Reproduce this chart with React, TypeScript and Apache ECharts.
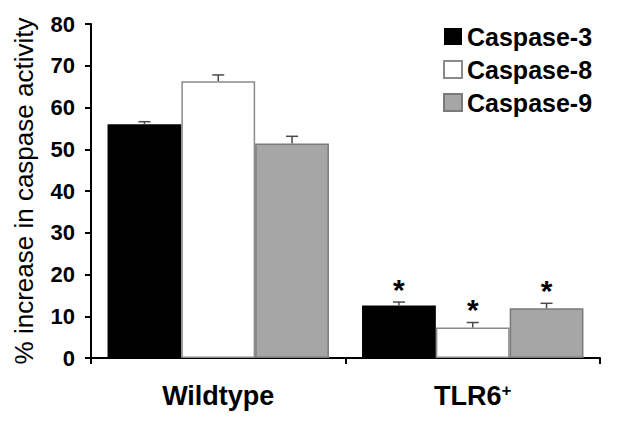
import React, { useEffect, useRef } from "react";
import * as echarts from "echarts";

const categories = ["Wildtype", "TLR6+"];
const seriesNames = ["Caspase-3", "Caspase-8", "Caspase-9"];
const caspase3 = [56.0, 12.6];
const caspase8 = [66.3, 7.3];
const caspase9 = [51.4, 11.9];
const err3 = [0.6, 0.8];
const err8 = [1.5, 1.2];
const err9 = [1.7, 1.2];
const sig3 = [0, 1];
const sig8 = [0, 1];
const sig9 = [0, 1];
const yTicks = [0, 10, 20, 30, 40, 50, 60, 70, 80];

const FONT = "'Liberation Sans', Arial, Helvetica, sans-serif";
const BAR_FRAC = 0.29;

export default function App() {
  const ref = useRef<HTMLDivElement>(null);
  useEffect(() => {
    if (!ref.current) return;
    const chart = echarts.init(ref.current, undefined, { renderer: "svg" });
    const values = [caspase3, caspase8, caspase9];
    const errs = [err3, err8, err9];
    const sigs = [sig3, sig8, sig9];
    const styles = [
      { color: "#000000", borderColor: "#000000", borderWidth: 0 },
      { color: "#ffffff", borderColor: "#8a8a8a", borderWidth: 1.5 },
      { color: "#a6a6a6", borderColor: "#7a7a7a", borderWidth: 1.5 },
    ];
    const bars = seriesNames.map((name, k) => ({
      name,
      type: "bar",
      data: values[k],
      barWidth: BAR_FRAC * 100 + "%",
      barGap: "0%",
      itemStyle: styles[k],
      z: 2,
    }));
    const errSeries = seriesNames.map((name, k) => ({
      name: "err-" + name,
      type: "custom",
      z: 5,
      data: categories.map((_, i) => [i, values[k][i], errs[k][i], sigs[k][i]]),
      encode: { x: 0, y: 1 },
      renderItem: (params: any, api: any) => {
        const idx = api.value(0);
        const v = api.value(1);
        const e = api.value(2);
        const s = api.value(3);
        const bandW = api.size([1, 0])[0];
        const w = bandW * BAR_FRAC;
        const cx = api.coord([idx, 0])[0] + (k - 1) * w;
        const yb = api.coord([idx, v])[1];
        const yt = api.coord([idx, v + e])[1];
        const st = { stroke: "#4a4a4a", lineWidth: 1.5 };
        const children: any[] = [
          { type: "line", shape: { x1: cx, y1: yb, x2: cx, y2: yt }, style: st },
          { type: "line", shape: { x1: cx - 6, y1: yt, x2: cx + 6, y2: yt }, style: st },
        ];
        if (s) {
          children.push({
            type: "text",
            x: cx,
            y: yt - 13,
            style: {
              text: "*",
              fontSize: 30,
              fontWeight: "bold",
              fontFamily: FONT,
              fill: "#000",
              align: "center",
              verticalAlign: "middle",
            },
          });
        }
        return { type: "group", children };
      },
    }));
    chart.setOption({
      animation: false,
      backgroundColor: "#ffffff",
      grid: { left: 91, right: 26, top: 24, bottom: 67, containLabel: false },
      legend: {
        data: seriesNames,
        orient: "vertical",
        left: 438,
        top: 19,
        icon: "rect",
        itemWidth: 18,
        itemHeight: 17,
        itemGap: 8,
        textStyle: { fontSize: 25, fontWeight: "bold", fontFamily: FONT, color: "#000" },
      },
      xAxis: {
        type: "category",
        data: categories,
        axisLine: { lineStyle: { color: "#000", width: 2 } },
        axisTick: { show: true, length: 6, lineStyle: { color: "#000", width: 2 } },
        axisLabel: {
          margin: 24,
          color: "#000",
          fontFamily: FONT,
          formatter: (val: string) => {
            if (val.endsWith("+")) return "{a|" + val.slice(0, -1) + "}{b|+}";
            return "{a|" + val + "}";
          },
          rich: {
            a: { fontSize: 27, fontWeight: "bold", fontFamily: FONT, color: "#000" },
            b: { fontSize: 17, fontWeight: "bold", fontFamily: FONT, color: "#000", verticalAlign: "top" },
          },
        },
      },
      yAxis: {
        type: "value",
        min: yTicks[0],
        max: yTicks[yTicks.length - 1],
        interval: 10,
        name: "% increase in caspase activity",
        nameLocation: "middle",
        nameRotate: 90,
        nameGap: 54,
        nameTextStyle: { fontSize: 26, fontFamily: FONT, color: "#000" },
        splitLine: { show: false },
        axisLine: { show: true, lineStyle: { color: "#000", width: 2 } },
        axisTick: { show: true, length: 6, lineStyle: { color: "#000", width: 2 } },
        axisLabel: { margin: 16, fontSize: 22, fontWeight: "bold", fontFamily: FONT, color: "#000" },
      },
      series: [...bars, ...errSeries],
    });
    return () => chart.dispose();
  }, []);
  return (
    <div
      ref={ref}
      style={{ position: "fixed", left: 0, top: 0, width: 626, height: 425, background: "#fff" }}
    />
  );
}
